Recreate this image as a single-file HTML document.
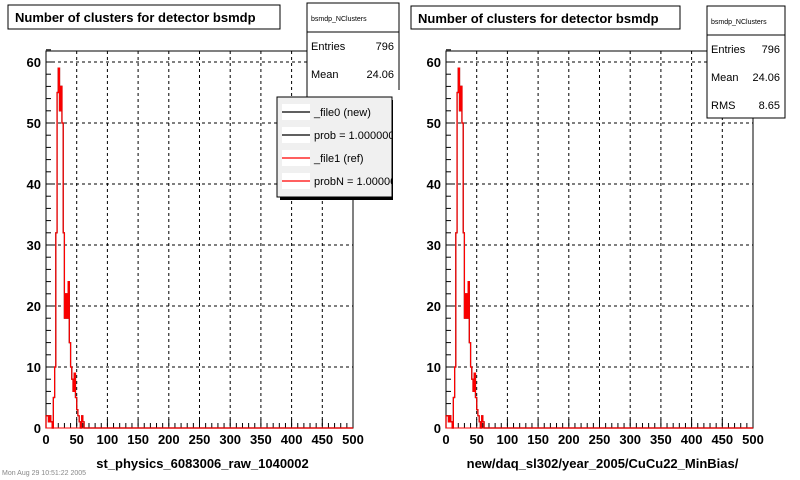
<!DOCTYPE html>
<html><head><meta charset="utf-8"><style>
html,body{margin:0;padding:0;background:#fff;}
svg{display:block;font-family:"Liberation Sans",Arial,sans-serif;}
</style></head><body>
<svg id="c" width="800" height="480" viewBox="0 0 800 480"></svg>
<script>
const binStarts = [0,2,4,6,8,10,12,14,16,18,20,22,24,26,28,30,32,34,36,38,40,42,44,46,48,50,52,54,56,58,60,62];
const newCounts = [2,2,1,2,1,0,5,10,32,55,59,52,56,50,32,18,22,18,24,14,10,8,6,9,5,3,2,1,0,2,1,0];
const refCounts = [2,2,1,2,1,0,5,10,32,55,59,52,56,50,32,18,22,18,24,14,10,8,6,9,5,3,2,1,0,2,1,0];
const xTicks = [0,50,100,150,200,250,300,350,400,450,500];
const yTicks = [0,10,20,30,40,50,60];
const binWidth = 2;

const NS="http://www.w3.org/2000/svg";
const svg=document.getElementById('c');
function mk(tag,attrs,parent){const e=document.createElementNS(NS,tag);for(const k in attrs)e.setAttribute(k,attrs[k]);(parent||svg).appendChild(e);return e;}

function panel(x0,x1,title,xtitle,titleBox,statBox,stats,withLegend,pname){
  const yTop=51,y0=428;
  const g=mk('g',{});
  
  
  const sx=v=>x0+(v/500)*(x1-x0);
  const sy=v=>y0-(v/60)*(y0-62);
  // frame
  const fr=mk('rect',{x:x0,y:yTop,width:x1-x0,height:y0-yTop,fill:'#fff',stroke:'#000','stroke-width':1},g);
  
  // grid
  xTicks.forEach(t=>{if(t>0&&t<500){const l=mk('line',{x1:sx(t),x2:sx(t),y1:yTop,y2:y0,stroke:'#000','stroke-dasharray':'3,3'},g);}});
  yTicks.forEach(t=>{if(t>0){const l=mk('line',{x1:x0,x2:x1,y1:sy(t),y2:sy(t),stroke:'#000','stroke-dasharray':'3,3'},g);}});
  // ticks
  for(let v=0;v<=500;v+=10){const big=v%50===0;mk('line',{x1:sx(v),x2:sx(v),y1:y0,y2:y0-(big?9:5),stroke:'#000'},g);}
  for(let v=0;v<=62;v+=2){const big=v%10===0;mk('line',{x1:x0,x2:x0+(big?9:5),y1:sy(v),y2:sy(v),stroke:'#000'},g);}
  xTicks.forEach(t=>{const e=mk('text',{x:sx(t),y:444,'text-anchor':'middle','font-size':13,'font-weight':'bold'},g);e.textContent=t;});
  yTicks.forEach(t=>{const e=mk('text',{x:x0-5,y:sy(t)+5,'text-anchor':'end','font-size':13,'font-weight':'bold'},g);e.textContent=t;});
  // histograms
  function hist(arr,color,name){
    let d='M'+sx(0)+','+y0;
    arr.forEach((c,i)=>{const xa=sx(binStarts[i]),xb=sx(binStarts[i]+binWidth);d+=' L'+xa+','+sy(c)+' L'+xb+','+sy(c);});
    d+=' L'+sx(500)+','+y0;
    const p=mk('path',{d:d,fill:'none',stroke:color,'stroke-width':1.2},g);
    
  }
  hist(newCounts,'#000','new-histogram');
  hist(refCounts,'#f00','ref-histogram');
  mk('line',{x1:x0,x2:x1,y1:y0,y2:y0,stroke:'#f00','stroke-width':1},g);
  // titles
  const tb=mk('rect',{x:titleBox[0],y:titleBox[1],width:titleBox[2],height:titleBox[3],fill:'#fff',stroke:'#000'},g);
  
  const tt=mk('text',{x:titleBox[0]+7,y:titleBox[1]+17,'font-size':13,'font-weight':'bold'},g);tt.textContent=title;
  
  const xt=mk('text',{x:(x0+x1)/2+3,y:468,'text-anchor':'middle','font-size':13,'font-weight':'bold'},g);xt.textContent=xtitle;
  
  // stat box
  const [bx,by,bw,bh]=statBox;
  const sb=mk('rect',{x:bx,y:by,width:bw,height:bh,fill:'#fff',stroke:'#000'},g);
  
  mk('line',{x1:bx,x2:bx+bw,y1:by+29,y2:by+29,stroke:'#000'},g);
  const sn=mk('text',{x:bx+4,y:by+18,'font-size':7},g);sn.textContent='bsmdp_NClusters';
  stats.forEach((s,i)=>{
    const a=mk('text',{x:bx+4,y:by+47+i*28,'font-size':11},g);a.textContent=s[0];
    const b=mk('text',{x:bx+bw-5,y:by+47+i*28,'font-size':11,'text-anchor':'end'},g);b.textContent=s[1];
  });
  if(withLegend){
    const lg=mk('g',{},g);
    mk('rect',{x:280,y:100,width:115,height:100,fill:'#000'},lg);
    mk('rect',{x:277,y:97,width:115,height:100,fill:'#f0f0f0',stroke:'#000'},lg);
    const items=[['_file0 (new)','#000'],['prob = 1.000000','#000'],['_file1 (ref)','#f00'],['probN = 1.000000','#f00']];
    items.forEach((it,i)=>{
      const yy=112+i*23;
      const e=mk('g',{},lg);
      mk('rect',{x:282,y:yy-8,width:28,height:16,fill:'#fff'},e);
      mk('line',{x1:282,x2:310,y1:yy,y2:yy,stroke:it[1],'stroke-width':1.2},e);
      const t=mk('text',{x:314,y:yy+4,'font-size':11},e);t.textContent=it[0];
    });
    mk('rect',{x:392,y:90,width:10,height:120,fill:'#fff'},lg);
  }
}
panel(46,353,'Number of clusters for detector bsmdp','st_physics_6083006_raw_1040002',[8,5,272,24],[307,3,92,112],[['Entries','796'],['Mean','24.06']],false,'left-panel');
panel(446,753,'Number of clusters for detector bsmdp','new/daq_sl302/year_2005/CuCu22_MinBias/',[411,6,269,23],[707,6,78,112],[['Entries','796'],['Mean','24.06'],['RMS','8.65']],false,'right-panel');
// legend drawn on top of left panel
(function(){
  const lg=mk('g',{});
  mk('rect',{x:280,y:100,width:115,height:100,fill:'#000'},lg);
  mk('rect',{x:277,y:97,width:115,height:100,fill:'#f0f0f0',stroke:'#000'},lg);
  const labels=['_file0 (new)','prob = 1.000000','_file1 (ref)','probN = 1.000000'];
  const colors=['#000','#000','#f00','#f00'];
  labels.forEach((lab,i)=>{
    const yy=112+i*23;
    const e=mk('g',{},lg);
    
    
    mk('rect',{x:282,y:yy-8,width:28,height:16,fill:'#fff'},e);
    mk('line',{x1:282,x2:310,y1:yy,y2:yy,stroke:colors[i],'stroke-width':1.2},e);
    const t=mk('text',{x:314,y:yy+4,'font-size':11},e);t.textContent=lab;
  });
  mk('rect',{x:393,y:90,width:15,height:120,fill:'#fff'},lg);
})();
const ts=mk('text',{x:2,y:475,'font-size':7,fill:'#888'});ts.textContent='Mon Aug 29 10:51:22 2005';

</script>
</body></html>
